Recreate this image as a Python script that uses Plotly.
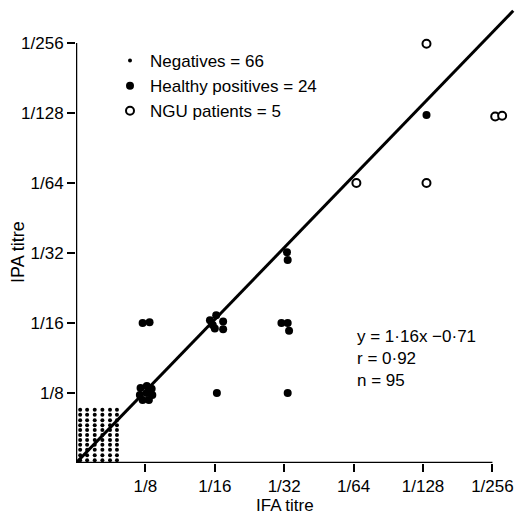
import plotly.graph_objects as go

# Axis positions are log2 of reciprocal titre (3 -> 1/8 ... 8 -> 1/256)
tick_vals = [3, 4, 5, 6, 7, 8]
tick_text = ["1/8", "1/16", "1/32", "1/64", "1/128", "1/256"]

# Negatives (66): plotted as a block below the 1/8 titre
neg_cols = [2.06, 2.16, 2.27, 2.38, 2.49, 2.59]
neg_rows = [2.04, 2.11, 2.19, 2.26, 2.33, 2.40, 2.47, 2.54, 2.61, 2.69, 2.76]

# Healthy positives (24)
hp_x = [2.93, 3.02, 3.09, 3.10, 3.05, 2.96, 2.92, 3.02,
        2.96, 3.06,
        3.93, 4.02, 4.12, 4.00, 4.12, 3.97,
        4.03,
        4.96, 5.05, 5.07,
        5.05,
        5.04, 5.05,
        7.05]
hp_y = [3.07, 3.10, 3.06, 2.97, 2.90, 2.90, 2.97, 3.00,
        4.00, 4.01,
        4.04, 4.11, 4.02, 3.92, 3.91, 3.97,
        3.00,
        4.00, 4.00, 3.89,
        3.00,
        5.01, 4.90,
        6.97]

# NGU patients (5)
ngu_x = [7.05, 7.05, 6.04, 8.04, 8.14]
ngu_y = [7.99, 6.00, 6.00, 6.95, 6.96]

# Regression line end points
reg_x = [2.0, 8.30]
reg_y = [2.0, 8.46]

neg_x = [c for c in neg_cols for r in neg_rows]
neg_y = [r for c in neg_cols for r in neg_rows]

FONT = "Liberation Sans"

fig = go.Figure()
fig.add_trace(go.Scatter(x=reg_x, y=reg_y, mode="lines",
                         line=dict(color="black", width=3), showlegend=False))
fig.add_trace(go.Scatter(x=neg_x, y=neg_y, mode="markers", name="Negatives = 66",
                         marker=dict(color="black", size=4)))
fig.add_trace(go.Scatter(x=hp_x, y=hp_y, mode="markers", name="Healthy positives = 24",
                         marker=dict(color="black", size=8)))
fig.add_trace(go.Scatter(x=ngu_x, y=ngu_y, mode="markers", name="NGU patients = 5",
                         marker=dict(color="white", size=8, symbol="circle",
                                     line=dict(color="black", width=2)),
                         cliponaxis=False))

axis_common = dict(tickvals=tick_vals, ticktext=tick_text, ticks="outside",
                   ticklen=8, tickwidth=2, tickcolor="black", showgrid=False,
                   zeroline=False, showline=False, automargin=False,
                   tickfont=dict(family=FONT, size=17, color="black"))

fig.update_xaxes(range=[2, 8.455], **axis_common)
fig.update_yaxes(range=[2, 8.5], **axis_common)

# axis lines
fig.add_shape(type="line", x0=2, y0=2, x1=8, y1=2, xref="x", yref="y",
              line=dict(color="black", width=2.5))
fig.add_shape(type="line", x0=2, y0=2, x1=2, y1=8, xref="x", yref="y",
              line=dict(color="black", width=2.5))

# axis titles
fig.add_annotation(xref="paper", yref="paper", x=(285 - 76) / 448, y=(463 - 505) / 455,
                   xanchor="center", yanchor="middle", showarrow=False,
                   text="IFA titre", font=dict(family=FONT, size=17, color="black"))
fig.add_annotation(xref="paper", yref="paper", x=(18 - 76) / 448, y=(463 - 252) / 455,
                   xanchor="center", yanchor="middle", showarrow=False, textangle=-90,
                   text="IPA titre", font=dict(family=FONT, size=18, color="black"))

# regression statistics
fig.add_annotation(xref="paper", yref="paper", x=(355 - 76) / 448, y=(463 - 325) / 455,
                   xanchor="left", yanchor="top", align="left", showarrow=False,
                   text="y = 1·16x −0·71<br>r = 0·92<br>n = 95",
                   font=dict(family=FONT, size=17, color="black"))

fig.update_layout(
    width=528, height=514,
    margin=dict(l=76, r=4, t=8, b=51, autoexpand=False),
    paper_bgcolor="white", plot_bgcolor="white",
    font=dict(family=FONT, size=17, color="black"),
    legend=dict(x=(110 - 76) / 448, y=1 - (43 - 8) / 455, xanchor="left", yanchor="top",
                itemsizing="trace", bgcolor="rgba(0,0,0,0)",
                font=dict(family=FONT, size=17, color="black")),
)

fig.write_html("out.html", config={"displayModeBar": False},
               post_script="document.body.style.margin='0';document.body.style.overflow='hidden';")
